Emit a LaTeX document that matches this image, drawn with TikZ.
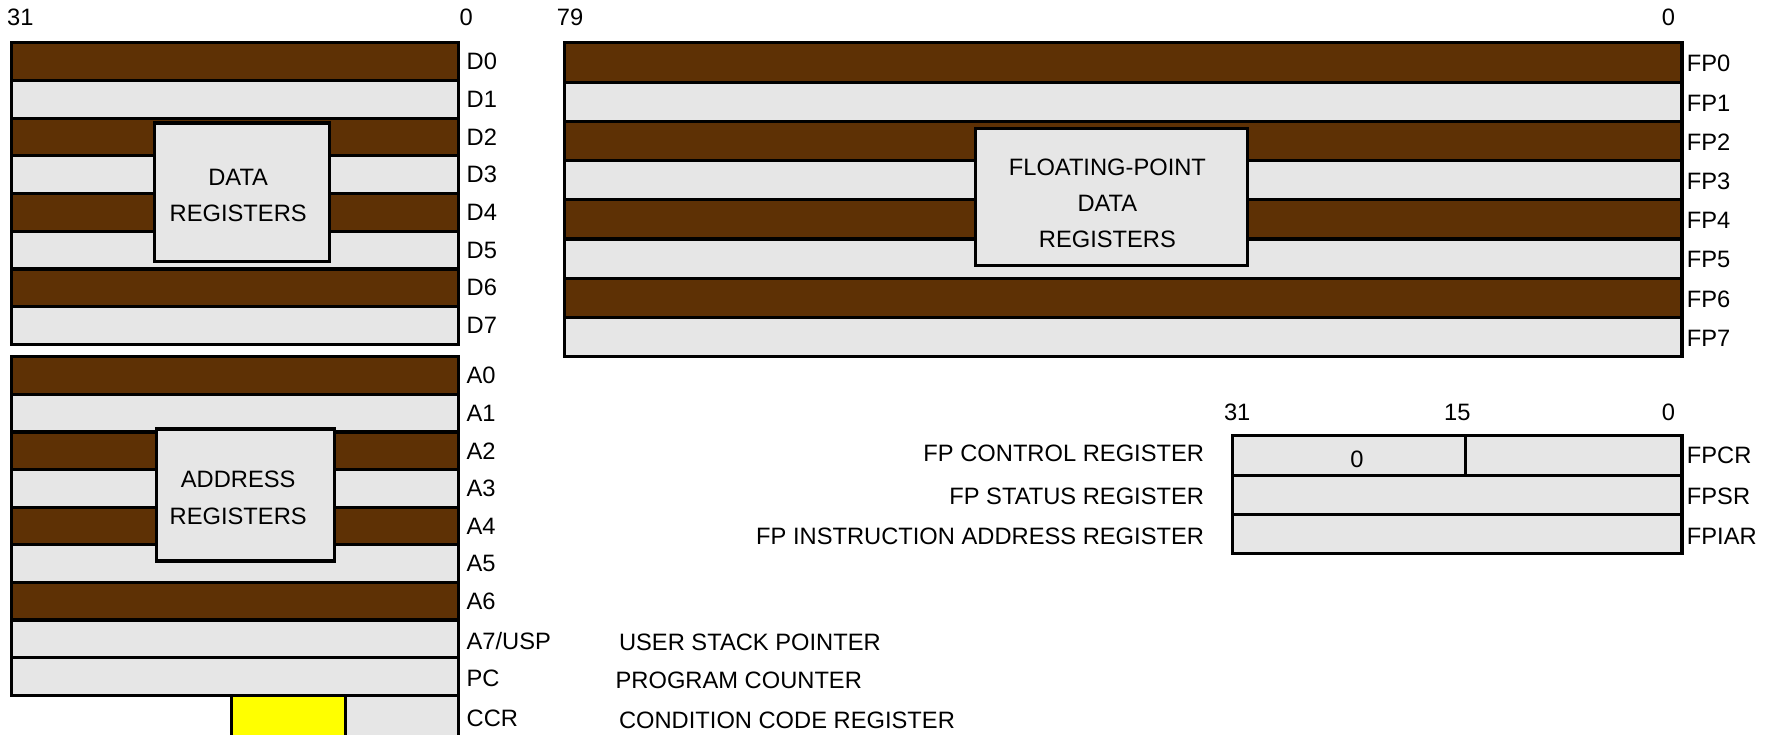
\documentclass[tikz,border=0pt]{standalone}
\usepackage{fontspec}
\setmainfont{Liberation Sans}
\definecolor{regbrown}{HTML}{5E3105}
\definecolor{reggray}{HTML}{E6E6E6}
\definecolor{regyellow}{HTML}{FFFF00}
\begin{document}
\begin{tikzpicture}[x=0.5pt,y=-0.5pt,
  font=\fontsize{10.5}{16}\selectfont,
  brownrow/.style={draw=black,line width=1.4pt,fill=regbrown},
  grayrow/.style={draw=black,line width=1.4pt,fill=reggray},
  yellowrow/.style={draw=black,line width=1.4pt,fill=regyellow},
  graybox/.style={draw=black,line width=1.4pt,fill=reggray},
  lbl/.style={anchor=west,inner sep=0pt},
  rlbl/.style={anchor=east,inner sep=0pt},
  num/.style={inner sep=0pt},
  boxtxt/.style={align=center,inner sep=0pt}]
\useasboundingbox (0,0) rectangle (1568,651);

% top bit numbers
\node[num] (n31) at (18,15) {31};
\node[num] (n0a) at (413,15) {0};
\node[num] (n79) at (505,15) {79};
\node[num] (n0b) at (1478,15) {0};

% data registers
\foreach \i in {0,...,7} {
  \pgfmathsetmacro{\ya}{38+\i*33.375}
  \pgfmathsetmacro{\yb}{38+(\i+1)*33.375}
  \pgfmathsetmacro{\yc}{38+(\i+0.5)*33.375}
  \pgfmathtruncatemacro{\odd}{mod(\i,2)}
  \ifnum\odd=0
    \draw[brownrow] (10,\ya) rectangle (406,\yb);
  \else
    \draw[grayrow] (10,\ya) rectangle (406,\yb);
  \fi
  \node[lbl] (D\i) at (413,\yc) {D\i};
}
\draw[graybox] (137,109) rectangle (292,232);
\node[boxtxt] (dtxt) at (211,173) {DATA\\REGISTERS};

% address registers
\foreach \i in {0,...,6} {
  \pgfmathsetmacro{\ya}{316+\i*33.33}
  \pgfmathsetmacro{\yb}{316+(\i+1)*33.33}
  \pgfmathsetmacro{\yc}{316+(\i+0.5)*33.33}
  \pgfmathtruncatemacro{\odd}{mod(\i,2)}
  \ifnum\odd=0
    \draw[brownrow] (10,\ya) rectangle (406,\yb);
  \else
    \draw[grayrow] (10,\ya) rectangle (406,\yb);
  \fi
  \node[lbl] (A\i) at (413,\yc) {A\i};
}
\draw[grayrow] (10,549.3) rectangle (406,582.7);
\node[lbl] (A7) at (413,568) {A7/USP};
\draw[grayrow] (10,582.7) rectangle (406,616);
\node[lbl] (PC) at (413,601) {PC};
\draw[yellowrow] (205,616) rectangle (306,654);
\draw[grayrow] (306,616) rectangle (406,654);
\node[lbl] (CCR) at (413,636) {CCR};
\draw[graybox] (139,380) rectangle (296,497);
\node[boxtxt] (atxt) at (211,441) {ADDRESS\\REGISTERS};

\node[lbl] (usp) at (548,569) {USER STACK POINTER};
\node[lbl] (pcl) at (545,603) {PROGRAM COUNTER};
\node[lbl] (ccrl) at (548,638) {CONDITION CODE REGISTER};

% floating-point data registers
\foreach \i in {0,...,7} {
  \pgfmathsetmacro{\ya}{38+\i*34.75}
  \pgfmathsetmacro{\yb}{38+(\i+1)*34.75}
  \pgfmathsetmacro{\yc}{38+(\i+0.5)*34.75+1}
  \pgfmathtruncatemacro{\odd}{mod(\i,2)}
  \ifnum\odd=0
    \draw[brownrow] (500,\ya) rectangle (1490,\yb);
  \else
    \draw[grayrow] (500,\ya) rectangle (1490,\yb);
  \fi
  \node[lbl] (FP\i) at (1494,\yc) {FP\i};
}
\draw[graybox] (864,114) rectangle (1105,235);
\node[boxtxt] (ftxt) at (981,180) {FLOATING-POINT\\DATA\\REGISTERS};

% FP control registers
\node[num] (c31) at (1096,365) {31};
\node[num] (c15) at (1291,365) {15};
\node[num] (c0) at (1478,365) {0};
\draw[grayrow] (1092,386) rectangle (1490,421);
\draw[line width=1.4pt] (1298,386) -- (1298,421);
\node[num] (zero) at (1202,407) {0};
\draw[grayrow] (1092,421) rectangle (1490,456);
\draw[grayrow] (1092,456) rectangle (1490,490);
\node[lbl] (fpcr) at (1494,403) {FPCR};
\node[lbl] (fpsr) at (1494,440) {FPSR};
\node[lbl] (fpiar) at (1494,475) {FPIAR};
\node[rlbl] (fpcrl) at (1067,402) {FP CONTROL REGISTER};
\node[rlbl] (fpsrl) at (1067,440) {FP STATUS REGISTER};
\node[rlbl] (fpiarl) at (1067,475) {FP INSTRUCTION ADDRESS REGISTER};
\end{tikzpicture}
\end{document}
